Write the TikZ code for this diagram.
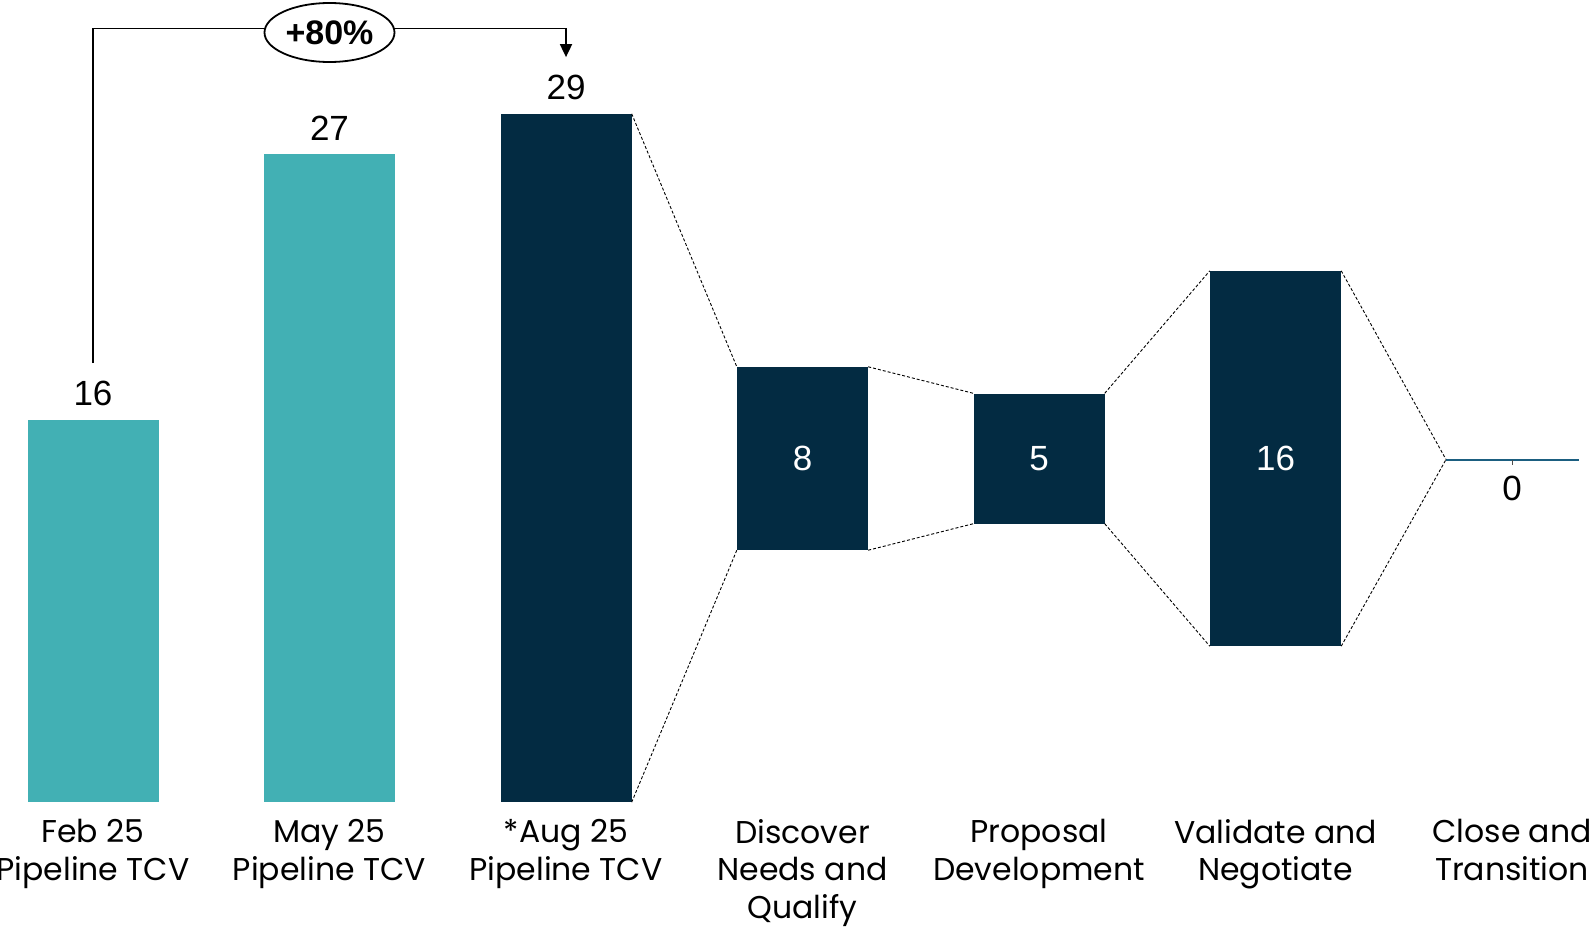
\documentclass[tikz,border=0pt]{standalone}
\usepackage{fontspec}
\setmainfont{Poppins}
\newfontfamily\numfont{Liberation Sans}
\usetikzlibrary{shapes.geometric,arrows.meta}
\definecolor{tealbar}{HTML}{42B0B4}
\definecolor{navybar}{HTML}{032B42}
\definecolor{zeroline}{HTML}{1B5E80}
\begin{document}
\begin{tikzpicture}[x=1pt,y=-1pt,
  barbox/.style={fill=#1, draw=none, inner sep=0pt, minimum width=131pt},
  valtext/.style={font=\numfont\fontsize{35}{38}\selectfont, inner sep=0pt},
  cattext/.style={font=\fontsize{31.5}{37.6}\selectfont, align=center, inner sep=0pt, anchor=north},
  dashline/.style={draw=black, line width=0.9pt, dash pattern=on 3pt off 2pt},
  bracket/.style={line width=1.8pt}]
\useasboundingbox[fill=white] (0,0) rectangle (1594,926);

% bars
\node[barbox=tealbar, minimum height=382pt] (bar1) at (93,611) {};
\node[barbox=tealbar, minimum height=648pt] (bar2) at (329.5,478) {};
\node[barbox=navybar, minimum height=688pt] (bar3) at (566,458) {};
\node[barbox=navybar, minimum height=183pt, valtext, text=white] (s1) at (802.5,458.5) {8};
\node[barbox=navybar, minimum height=130pt, valtext, text=white] (s2) at (1039,458.5) {5};
\node[barbox=navybar, minimum height=375pt, valtext, text=white] (s3) at (1275.5,458.5) {16};
\coordinate (s4w) at (1446,459.5);
\coordinate (s4e) at (1578.5,459.5);
\coordinate (s4c) at (1512,459.5);
\draw[zeroline, line width=2pt] (s4w) -- (s4e);
\draw[line width=1pt, black!70] (s4c) -- ++(0,5);

% value labels
\node[valtext, anchor=south] (v1) at ([yshift=13.5pt]bar1.north) {16};
\node[valtext, anchor=south] (v2) at ([yshift=13.5pt]bar2.north) {27};
\node[valtext, anchor=south] (v3) at ([yshift=13.5pt]bar3.north) {29};
\node[valtext, anchor=north] (v4) at ([yshift=-16pt]s4c) {0};

% dashed funnel connectors
\draw[dashline] (bar3.north east) -- (s1.north west);
\draw[dashline] (bar3.south east) -- (s1.south west);
\draw[dashline] (s1.north east) -- (s2.north west);
\draw[dashline] (s1.south east) -- (s2.south west);
\draw[dashline] (s2.north east) -- (s3.north west);
\draw[dashline] (s2.south east) -- (s3.south west);
\draw[dashline] (s3.north east) -- (s4w);
\draw[dashline] (s3.south east) -- (s4w);

% category labels
\node[cattext] (c1) at ([yshift=-17pt]bar1.south) {Feb 25\\Pipeline TCV};
\node[cattext] (c2) at ([yshift=-17pt]bar2.south) {May 25\\Pipeline TCV};
\node[cattext] (c3) at ([yshift=-17pt]bar3.south) {*Aug 25\\Pipeline TCV};
\node[cattext] (c4) at (802.5,819) {Discover\\Needs and\\Qualify};
\node[cattext] (c5) at (1039,819) {Proposal\\Development};
\node[cattext] (c6) at (1275.5,819) {Validate and\\Negotiate};
\node[cattext] (c7) at (1512,819) {Close and\\Transition};

% growth bracket
\coordinate (bstart) at ([yshift=18pt]v1.north);
\coordinate (bend) at ([yshift=18pt]v3.north);
\coordinate (bl) at (93,28.5);
\draw[bracket, -{Triangle[width=12pt,length=13pt]}] (bstart) -- (bl) -| (bend);
\node[ellipse, draw, line width=1.8pt, fill=white, minimum width=130pt, minimum height=59pt, inner sep=0pt,
  font=\numfont\bfseries\fontsize{34}{38}\selectfont] (pct) at (329.5,32.5) {+80\%};
\end{tikzpicture}
\end{document}
